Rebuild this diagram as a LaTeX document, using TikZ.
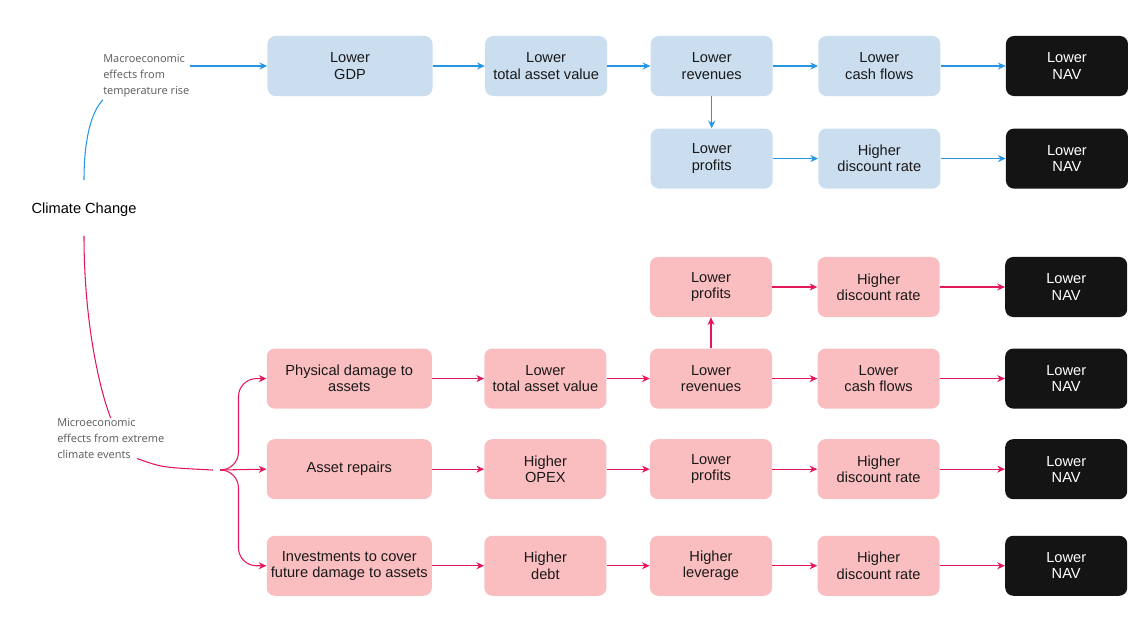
\documentclass[tikz,border=0pt]{standalone}
\usepackage{fontspec}
\setmainfont{Liberation Sans}
\newfontfamily\notefont{Open Sans}
\usetikzlibrary{arrows.meta,positioning}

\definecolor{macrofill}{RGB}{203,222,240}
\definecolor{microfill}{RGB}{250,190,192}
\definecolor{macroline}{RGB}{38,150,228}
\definecolor{microline}{RGB}{228,24,88}
\definecolor{navfill}{RGB}{20,20,20}

\begin{document}
\begin{tikzpicture}[
  x=0.025cm, y=-0.025cm,
  >={Stealth[length=5.5pt,width=5pt]},
  every node/.style={font=\fontsize{10.4}{11.6}\selectfont, align=center},
  box/.style={rounded corners=0.2cm, minimum height=1.5cm, inner sep=2pt, text=black!90},
  wide/.style={box, minimum width=4.125cm},
  narrow/.style={box, minimum width=3.05cm},
  macro/.style={narrow, fill=macrofill},
  micro/.style={narrow, fill=microfill},
  nav/.style={narrow, fill=navfill, text=white},
  note/.style={font=\notefont\fontsize{7.8}{11.3}\selectfont, align=left, text=black!65, inner sep=0pt},
  macroarrow/.style={->, draw=macroline, line width=0.75pt},
  microarrow/.style={->, draw=microline, line width=0.75pt},
  ]
  \useasboundingbox (0,0) rectangle (1137,617);

  % left side
  \node (cc) at (84,210) {Climate Change};
  \node[note, anchor=north west] (macronote) at (103,54) {Macroeconomic\\effects from\\temperature rise};
  \node[note, anchor=north west] (micronote) at (57,418) {Microeconomic\\effects from extreme\\climate events};
  \coordinate (fork) at (220,470);

  % macro block
  \node[wide, fill=macrofill] (gdp) at (350,66) {Lower\\GDP};
  \node[macro, right=1.3cm of gdp] (tav1) {Lower\\total asset value};
  \node[macro, right=1.075cm of tav1] (rev1) {Lower\\revenues};
  \node[macro, right=1.125cm of rev1] (cf1) {Lower\\cash flows};
  \node[nav, right=1.625cm of cf1] (nav1) {Lower\\NAV};
  \node[macro, below=0.8cm of rev1] (prof1) {Lower\\profits};
  \node[macro, right=1.125cm of prof1] (dr1) {Higher\\discount rate};
  \node[nav, right=1.625cm of dr1] (nav2) {Lower\\NAV};

  % micro block
  \node[micro] (prof2) at (711,287) {Lower\\profits};
  \node[micro, right=1.125cm of prof2] (dr2) {Higher\\discount rate};
  \node[nav, right=1.625cm of dr2] (nav3) {Lower\\NAV};
  \node[micro, below=0.775cm of prof2] (rev2) {Lower\\revenues};
  \node[micro, left=1.075cm of rev2] (tav2) {Lower\\total asset value};
  \node[wide, fill=microfill, left=1.3cm of tav2] (dmg) {Physical damage to\\assets};
  \node[micro, right=1.125cm of rev2] (cf2) {Lower\\cash flows};
  \node[nav, right=1.625cm of cf2] (nav4) {Lower\\NAV};
  \node[wide, fill=microfill, below=0.75cm of dmg] (rep) {Asset repairs};
  \node[micro, right=1.3cm of rep] (opex) {Higher\\OPEX};
  \node[micro, right=1.075cm of opex] (prof3) {Lower\\profits};
  \node[micro, right=1.125cm of prof3] (dr3) {Higher\\discount rate};
  \node[nav, right=1.625cm of dr3] (nav5) {Lower\\NAV};
  \node[wide, fill=microfill, below=0.9cm of rep] (inv) {Investments to cover\\future damage to assets};
  \node[micro, right=1.3cm of inv] (debt) {Higher\\debt};
  \node[micro, right=1.075cm of debt] (lev) {Higher\\leverage};
  \node[micro, right=1.125cm of lev] (dr4) {Higher\\discount rate};
  \node[nav, right=1.625cm of dr4] (nav6) {Lower\\NAV};

  % curves from climate change
  \draw[macroline, line width=0.75pt] ([yshift=0.45cm]cc.north) .. controls +(0,-40) and +(-12,12) .. ([yshift=-2pt]macronote.south west);
  \draw[microline, line width=0.75pt] ([yshift=-0.35cm]cc.south) .. controls +(0,90) and +(-10,-25) .. (micronote.north);
  \draw[microline, line width=0.75pt] ([xshift=2cm]micronote.south west) .. controls +(25,9) .. ([xshift=-0.18cm]fork);
  \draw[microarrow, rounded corners=0.45cm] (fork) -| ([xshift=-0.7cm]dmg.west) -- (dmg.west);
  \draw[microarrow] (fork) -- (rep.west);
  \draw[microarrow, rounded corners=0.45cm] (fork) -| ([xshift=-0.7cm]inv.west) -- (inv.west);

  \draw[macroarrow] (macronote.east |- gdp.west) -- (gdp.west);
  \draw[macroarrow] (gdp) -- (tav1);
  \draw[macroarrow] (tav1) -- (rev1);
  \draw[macroarrow] (rev1) -- (cf1);
  \draw[macroarrow] (cf1) -- (nav1);
  \draw[macroarrow] (rev1) -- (prof1);
  \draw[macroarrow] (prof1) -- (dr1);
  \draw[macroarrow] (dr1) -- (nav2);

  \draw[microarrow] (rev2) -- (prof2);
  \draw[microarrow] (prof2) -- (dr2);
  \draw[microarrow] (dr2) -- (nav3);
  \draw[microarrow] (dmg) -- (tav2);
  \draw[microarrow] (tav2) -- (rev2);
  \draw[microarrow] (rev2) -- (cf2);
  \draw[microarrow] (cf2) -- (nav4);
  \draw[microarrow] (rep) -- (opex);
  \draw[microarrow] (opex) -- (prof3);
  \draw[microarrow] (prof3) -- (dr3);
  \draw[microarrow] (dr3) -- (nav5);
  \draw[microarrow] (inv) -- (debt);
  \draw[microarrow] (debt) -- (lev);
  \draw[microarrow] (lev) -- (dr4);
  \draw[microarrow] (dr4) -- (nav6);
\end{tikzpicture}
\end{document}
